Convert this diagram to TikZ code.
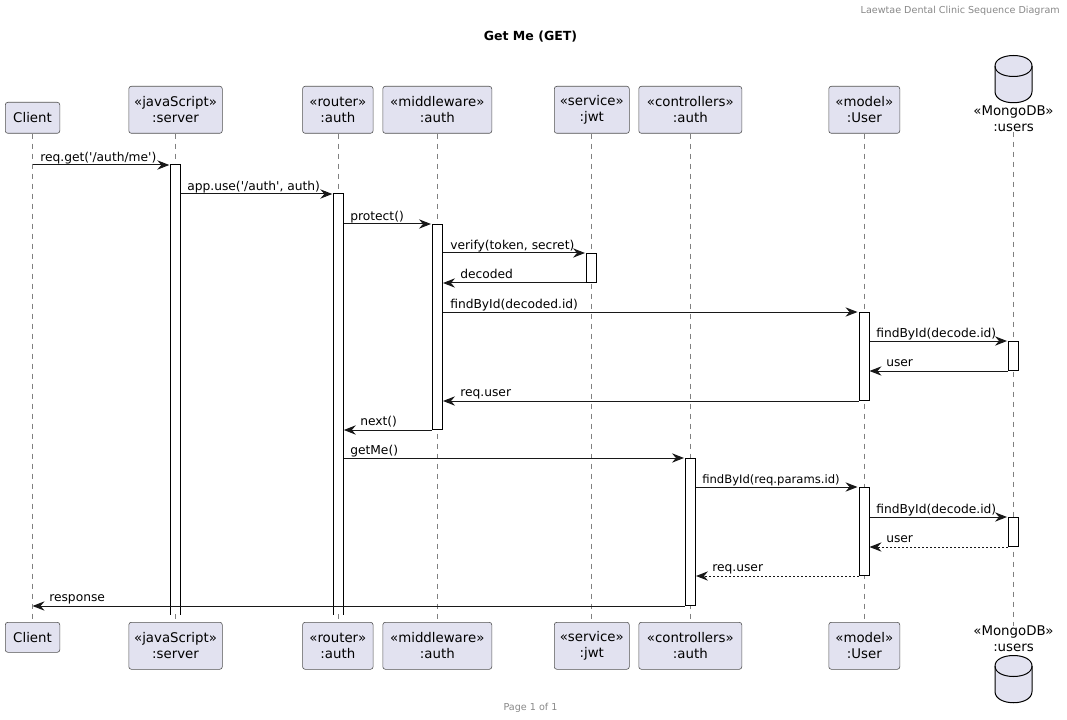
\documentclass[tikz,border=0pt]{standalone}
\usepackage{fontspec}
\setmainfont{DejaVu Sans}[Ligatures=TeXOff]
\usetikzlibrary{arrows.meta}
\definecolor{pfill}{HTML}{E2E2F0}
\definecolor{pline}{HTML}{181818}
\definecolor{lline}{HTML}{181818}
\definecolor{graytxt}{HTML}{888888}
\newlength{\pxu}\setlength{\pxu}{0.75pt}
\tikzset{
 x=0.75pt,y=-0.75pt,
 part/.style={draw=pline!75,line width=0.45pt,fill=pfill,rounded corners=1.9pt,inner sep=0pt,anchor=north west,
   font=\fontsize{10pt}{12pt}\selectfont,align=center,text=black},
 lifeline/.style={draw=lline!55,line width=0.5pt,dash pattern=on 3.75pt off 3.75pt},
 bar/.style={draw=black,line width=0.75pt,fill=white,inner sep=0pt,anchor=north west,minimum width=7.5pt},
 openbar/.style={draw=none,fill=white,inner sep=0pt,anchor=north west,minimum width=7.5pt},
 barside/.style={draw=black,line width=0.75pt},
 msgline/.style={draw=pline,line width=0.75pt,shorten >=0.75pt,-{Stealth[length=9pt,width=7pt,inset=3pt]}},
 backline/.style={msgline,shorten >=0pt},
 dashline/.style={backline,dash pattern=on 1.5pt off 1.5pt},
 msgtext/.style={font=\fontsize{9.2pt}{11pt}\selectfont,anchor=base west,inner sep=0pt,text=black,yshift=-0.4pt},
 dbcap/.style={font=\fontsize{10pt}{12pt}\selectfont,align=center,inner sep=0pt,text=black},
}
\newcommand{\partbox}[6]{% name, x1, y1, x2, y2, text
 \node[part,minimum width=#4*\pxu-#2*\pxu,minimum height=#5*\pxu-#3*\pxu] (#1) at (#2,#3) {#6};}
\newcommand{\actbar}[4]{% name, x, y1, y2
 \node[bar,minimum height=#4*\pxu-#3*\pxu] (#1) at (#2,#3) {};}
\newcommand{\openactbar}[4]{% bar without a closing bottom edge
 \node[openbar,minimum height=#4*\pxu-#3*\pxu] (#1) at (#2,#3) {};
 \draw[barside] (#1.south west) -- (#1.north west) -- (#1.north east) -- (#1.south east);}
\newcommand{\dbshape}[1]{% top y
 \draw[draw=black,line width=0.75pt,fill=pfill] (995,#1+10.5) .. controls (995,#1-3.5) and (1032,#1-3.5) .. (1032,#1+10.5)
   -- (1032,#1+36) .. controls (1032,#1+51) and (995,#1+51) .. (995,#1+36) -- cycle;
 \draw[draw=black,line width=0.75pt] (995,#1+10.5) .. controls (995,#1+24.5) and (1032,#1+24.5) .. (1032,#1+10.5);}
\begin{document}
\begin{tikzpicture}
\useasboundingbox (0,0) rectangle (1067,720);
% header, title, footer
\node[font=\fontsize{7.2pt}{9pt}\selectfont,text=graytxt,anchor=east,inner sep=0pt] (hdr) at (1060,11) {Laewtae Dental Clinic Sequence Diagram};
\node[font=\fontsize{9.4pt}{12pt}\selectfont\bfseries,inner sep=0pt] (ttl) at (530.5,37) {Get Me (GET)};
\node[font=\fontsize{7.2pt}{9pt}\selectfont,text=graytxt,inner sep=0pt] (ftr) at (530.5,708) {Page 1 of 1};
% participants, top
\partbox{clientT}{5}{102}{59.5}{133}{Client}
\partbox{serverT}{128.5}{86}{222}{133}{«javaScript»\\:server}
\partbox{routerT}{302.3}{86}{372.8}{133}{«router»\\:auth}
\partbox{mwT}{382.5}{86}{491.5}{133}{«middleware»\\:auth}
\partbox{jwtT}{554}{86}{629}{133}{«service»\\:jwt}
\partbox{ctrlT}{638.5}{86}{741.5}{133}{«controllers»\\:auth}
\partbox{userT}{828.5}{86}{899.5}{133}{«model»\\:User}
% participants, bottom
\partbox{clientB}{5}{622}{59.5}{652}{Client}
\partbox{serverB}{128.5}{622}{222}{669}{«javaScript»\\:server}
\partbox{routerB}{302.3}{622}{372.8}{669}{«router»\\:auth}
\partbox{mwB}{382.5}{622}{491.5}{669}{«middleware»\\:auth}
\partbox{jwtB}{554}{622}{629}{669}{«service»\\:jwt}
\partbox{ctrlB}{638.5}{622}{741.5}{669}{«controllers»\\:auth}
\partbox{userB}{828.5}{622}{899.5}{669}{«model»\\:User}
% database
\dbshape{55.5}
\dbshape{655.5}
\node[dbcap] (dbT) at (1013.5,118.5) {«MongoDB»\\:users};
\node[dbcap] (dbB) at (1013.5,639) {«MongoDB»\\:users};
% lifelines
\draw[lifeline] (clientT) -- (clientB);
\draw[lifeline] (serverT) -- (serverB);
\draw[lifeline] (routerT) -- (routerB);
\draw[lifeline] (mwT) -- (mwB);
\draw[lifeline] (jwtT) -- (jwtB);
\draw[lifeline] (ctrlT) -- (ctrlB);
\draw[lifeline] (userT) -- (userB);
\draw[lifeline] (dbT) -- (dbB);
% activation bars
\openactbar{aServer}{170.3}{165}{614}
\openactbar{aRouter}{333.3}{194}{614}
\actbar{aMw}{432}{224}{429}
\actbar{aJwt}{586}{253}{282}
\actbar{aCtrl}{685}{458}{605}
\actbar{aUserA}{858.5}{312}{400}
\actbar{aUsersA}{1008}{341}{370}
\actbar{aUserB}{858.5}{487}{575}
\actbar{aUsersB}{1008}{517}{546}
% messages
\draw[msgline] (clientT |- aServer.north) -- (aServer.north west);
\node[msgtext] (t1) at (40,160.5) {req.get('/auth/me')};
\draw[msgline] (aServer.east |- aRouter.north) -- (aRouter.north west);
\node[msgtext] (t2) at (187,189.5) {app.use('/auth', auth)};
\draw[msgline] (aRouter.east |- aMw.north) -- (aMw.north west);
\node[msgtext] (t3) at (350,219.5) {protect()};
\draw[msgline] (aMw.east |- aJwt.north) -- (aJwt.north west);
\node[msgtext] (t4) at (450,248.5) {verify(token, secret)};
\draw[backline] (aJwt.south west) -- (aMw.east |- aJwt.south);
\node[msgtext] (t5) at (460,277.5) {decoded};
\draw[msgline] (aMw.east |- aUserA.north) -- (aUserA.north west);
\node[msgtext] (t6) at (450,307.5) {findById(decoded.id)};
\draw[msgline] (aUserA.east |- aUsersA.north) -- (aUsersA.north west);
\node[msgtext] (t7) at (876,336.5) {findById(decode.id)};
\draw[backline] (aUsersA.south west) -- (aUserA.east |- aUsersA.south);
\node[msgtext] (t8) at (886,365.5) {user};
\draw[backline] (aUserA.south west) -- (aMw.east |- aUserA.south);
\node[msgtext] (t9) at (460,395.5) {req.user};
\draw[backline] (aMw.south west) -- (aRouter.east |- aMw.south);
\node[msgtext] (t10) at (360,424.5) {next()};
\draw[msgline] (aRouter.east |- aCtrl.north) -- (aCtrl.north west);
\node[msgtext] (t11) at (350,453.5) {getMe()};
\draw[msgline] (aCtrl.east |- aUserB.north) -- (aUserB.north west);
\node[msgtext,font=\fontsize{8.7pt}{11pt}\selectfont] (t12) at (702,482.5) {findById(req.params.id)};
\draw[msgline] (aUserB.east |- aUsersB.north) -- (aUsersB.north west);
\node[msgtext] (t13) at (876,512.5) {findById(decode.id)};
\draw[dashline] (aUsersB.south west) -- (aUserB.east |- aUsersB.south);
\node[msgtext] (t14) at (886,541.5) {user};
\draw[dashline] (aUserB.south west) -- (aCtrl.east |- aUserB.south);
\node[msgtext] (t15) at (712,570.5) {req.user};
\draw[backline] (aCtrl.south west) -- (clientT |- aCtrl.south);
\node[msgtext] (t16) at (49,600.5) {response};
\end{tikzpicture}
\end{document}
